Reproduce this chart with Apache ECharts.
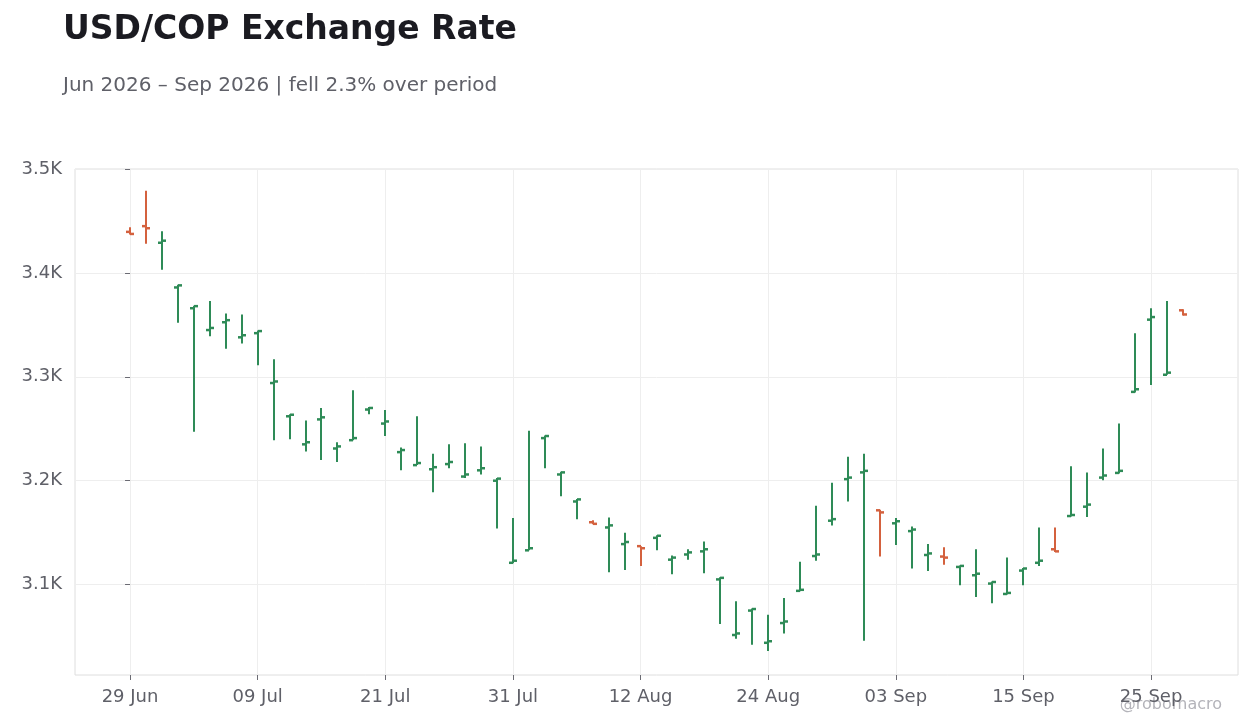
<!DOCTYPE html>
<html>
<head>
<meta charset="utf-8">
<script src="https://cdn.jsdelivr.net/npm/echarts@6/dist/echarts.min.js"></script>
<style>
html,body{margin:0;padding:0;background:#ffffff;}
#chart{width:1260px;height:728px;}
</style>
</head>
<body>
<div id="chart"></div>
<script>
const dates = ['29 Jun','30 Jun','01 Jul','02 Jul','03 Jul','06 Jul','07 Jul','08 Jul','09 Jul','10 Jul',
  '13 Jul','14 Jul','15 Jul','16 Jul','17 Jul','20 Jul','21 Jul','22 Jul','23 Jul','24 Jul',
  '27 Jul','28 Jul','29 Jul','30 Jul','31 Jul','03 Aug','04 Aug','05 Aug','06 Aug','07 Aug',
  '10 Aug','11 Aug','12 Aug','13 Aug','14 Aug','17 Aug','18 Aug','19 Aug','20 Aug','21 Aug',
  '24 Aug','25 Aug','26 Aug','27 Aug','28 Aug','31 Aug','01 Sep','02 Sep','03 Sep','04 Sep',
  '07 Sep','08 Sep','09 Sep','10 Sep','11 Sep','14 Sep','15 Sep','16 Sep','17 Sep','18 Sep',
  '21 Sep','22 Sep','23 Sep','24 Sep','25 Sep','28 Sep','29 Sep'];
const openVals = [3439.5,3445,3429,3386,3366,3345,3352.5,3338,3342,3294,
  3262,3235,3259,3231,3239,3268.5,3255,3227.5,3215,3211,
  3216,3204,3210,3200,3121,3133,3241,3206,3180,3160,
  3155,3139,3137,3145,3124,3129,3132,3105,3051.5,3075,
  3044,3063,3094,3127.5,3161.5,3201.5,3208,3171.5,3159,3151.5,
  3128.5,3127,3117,3109,3101,3091,3113.5,3121,3134,3166,
  3175,3203,3207.5,3285.5,3355,3302,3364];
const closeVals = [3437.5,3443,3431,3388,3368,3347,3354.5,3340,3344,3295.5,
  3263.5,3237,3261,3233,3241,3270,3257,3229.5,3217,3213,
  3218,3206,3212,3202,3123,3135,3243,3208,3182,3158.5,
  3157,3141,3135,3147,3126,3131,3134,3106.5,3053,3076.5,
  3045.5,3064.5,3095,3129,3163,3203,3209.5,3169.5,3161,3153,
  3130,3126,3118,3110.5,3102.5,3092,3115.5,3123,3132,3167,
  3177,3205,3209.5,3288,3357.5,3304,3360];
const lowVals = [3437,3428,3403,3352,3247,3339,3327,3332,3311,3239,
  3240,3228,3220,3218,3239,3264,3243,3210,3215,3189,
  3212,3202.5,3206,3154,3120.5,3133,3212,3185,3163,3158,
  3112,3114,3118,3133,3110,3124,3111,3062,3048,3042,
  3036,3053,3093.5,3123,3157,3180,3046,3127,3138,3115.5,
  3113,3119,3099.5,3088,3082,3090.5,3099.5,3118,3131.5,3165.5,
  3165,3200.5,3207,3285,3292,3302,3359];
const highVals = [3444,3479,3440,3388.5,3368.5,3373,3361,3360,3344.5,3317,
  3264,3258,3270,3237,3287,3271,3268,3232,3262,3226,
  3235,3236,3233,3202.5,3164,3248,3243.5,3208.5,3182.5,3162,
  3164.5,3150,3137,3147.5,3128,3134,3141.5,3107,3084,3077,
  3071,3087,3122,3176,3198,3223,3226,3172,3164,3156,
  3139,3136,3118.5,3134,3103,3126,3116,3155,3155,3214,
  3208,3231,3255,3342,3366,3373,3365];
const xTickIdx = [0,8,16,24,32,40,48,56,64];
const yTicks = [3100,3200,3300,3400,3500];

const UP = '#2e8b57', DOWN = '#d4613e';
const seriesData = dates.map((d,i)=>[i, openVals[i], closeVals[i], lowVals[i], highVals[i]]);

const chart = echarts.init(document.getElementById('chart'));
const FONT = 'DejaVu Sans';
chart.setOption({
  backgroundColor: '#ffffff',
  animation: false,
  textStyle: {fontFamily: FONT},
  title: [
    {text: 'USD/COP Exchange Rate', left: 63, top: 14, padding: 0,
     textStyle: {fontFamily: FONT, fontSize: 33, fontWeight: 'bold', color: '#1b1b21'}},
    {text: 'Jun 2026 – Sep 2026 | fell 2.3% over period', left: 63, top: 76, padding: 0,
     textStyle: {fontFamily: FONT, fontSize: 20, fontWeight: 'normal', color: '#5f6068'}}
  ],
  graphic: [{
    type: 'text', right: 38, top: 697,
    style: {text: '@robomacro', fill: '#b4b4ba', font: '16px "DejaVu Sans"'}
  }],
  grid: {left: 75, right: 22, top: 169, bottom: 53, show: true,
    backgroundColor: '#ffffff', borderColor: '#dedede', borderWidth: 1},
  xAxis: {
    type: 'value', min: -3.45, max: 69.45,
    axisLine: {show: false},
    axisTick: {show: true, customValues: xTickIdx, length: 5, lineStyle: {color: '#6b6b73'}},
    axisLabel: {customValues: xTickIdx, margin: 13, fontSize: 18, color: '#5f6068',
      formatter: v => dates[Math.round(v)] || ''},
    splitLine: {show: true, lineStyle: {color: '#eeeeee', width: 1}}
  },
  yAxis: {
    type: 'value', min: 3013, max: 3500,
    axisLine: {show: false},
    axisTick: {show: true, customValues: yTicks, length: 5, lineStyle: {color: '#6b6b73'}},
    axisLabel: {customValues: yTicks, margin: 13, fontSize: 18, color: '#5f6068',
      formatter: v => (v/1000).toFixed(1) + 'K'},
    splitLine: {show: true, lineStyle: {color: '#eeeeee', width: 1}}
  },
  series: [{
    type: 'custom',
    data: seriesData,
    encode: {x: 0, y: [1,2,3,4]},
    renderItem: function(params, api) {
      const x = api.value(0), o = api.value(1), c = api.value(2), l = api.value(3), h = api.value(4);
      const pO = api.coord([x, o]), pC = api.coord([x, c]);
      const pL = api.coord([x, l]), pH = api.coord([x, h]);
      const col = c >= o ? UP : DOWN;
      const cx = Math.round(pL[0]);
      return {type: 'group', children: [
        {type: 'line', shape: {x1: cx, y1: pH[1], x2: cx, y2: pL[1]}, style: {stroke: col, lineWidth: 2}},
        {type: 'line', shape: {x1: cx - 4, y1: pO[1], x2: cx, y2: pO[1]}, style: {stroke: col, lineWidth: 2.5}},
        {type: 'line', shape: {x1: cx, y1: pC[1], x2: cx + 4, y2: pC[1]}, style: {stroke: col, lineWidth: 2.5}}
      ]};
    }
  }]
});
</script>
</body>
</html>
